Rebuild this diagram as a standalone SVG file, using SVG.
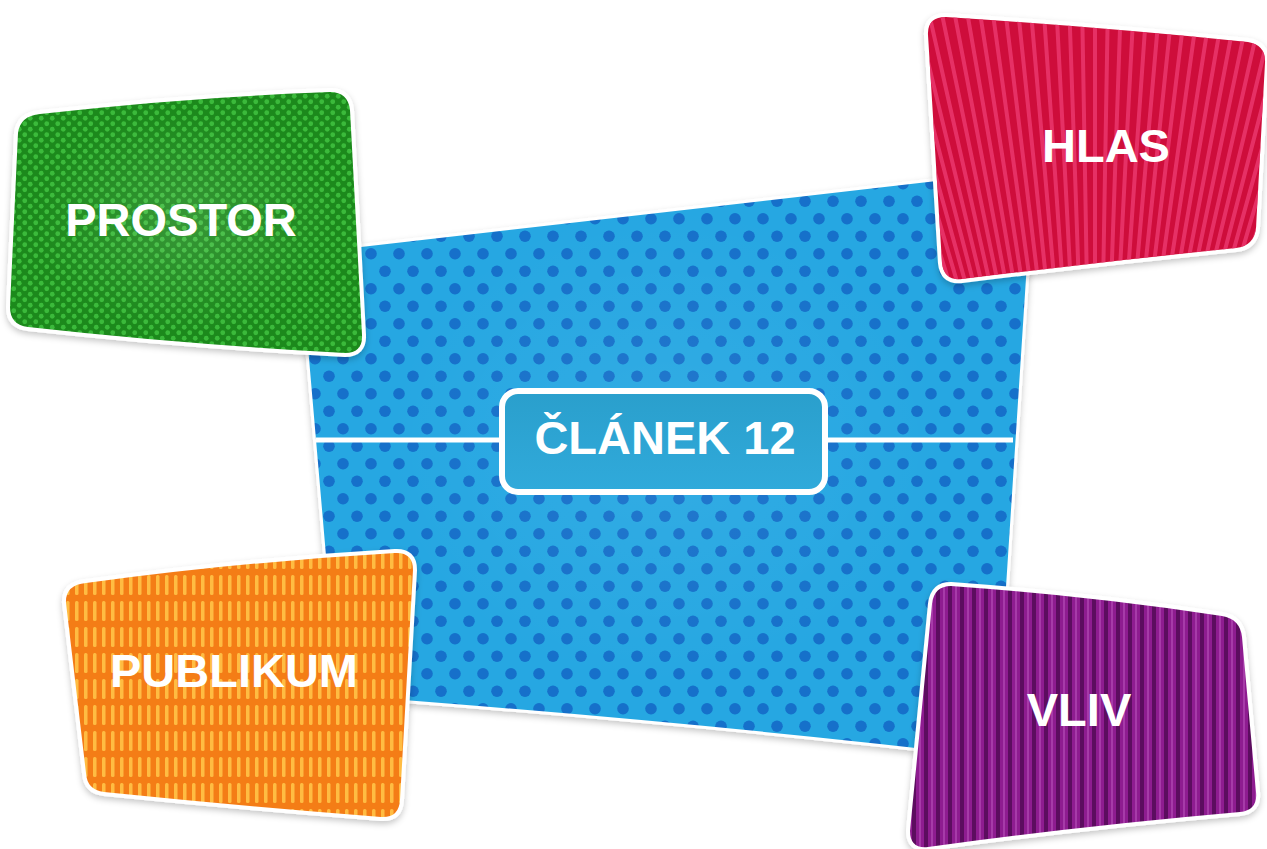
<svg xmlns="http://www.w3.org/2000/svg" xmlns:xlink="http://www.w3.org/1999/xlink" width="1267" height="849" viewBox="0 0 1267 849">
<style>
.lbl{font-family:"Liberation Sans",Arial,sans-serif;font-weight:bold;font-size:47px;fill:#fff;text-anchor:middle}
.card{stroke:#fff;stroke-width:8;stroke-linejoin:round;paint-order:stroke;filter:url(#sh)}
</style>
<defs>
<filter id="sh" x="-10%" y="-10%" width="120%" height="130%">
<feDropShadow dx="0" dy="3" stdDeviation="3" flood-color="#000" flood-opacity="0.22"/>
</filter>
<pattern id="pBlue" width="28" height="35" patternUnits="userSpaceOnUse">
<rect width="28" height="35" fill="#27A7E2"/>
<circle cx="7" cy="8.75" r="5.8" fill="#1270CA"/>
<circle cx="21" cy="26.25" r="5.8" fill="#1270CA"/>
</pattern>
<pattern id="pGreen" width="11" height="11" patternUnits="userSpaceOnUse">
<rect width="11" height="11" fill="#1A891A"/>
<circle cx="2.75" cy="2.75" r="2.4" fill="#3BBA3B"/>
<circle cx="8.25" cy="8.25" r="2.4" fill="#3BBA3B"/>
</pattern>
<pattern id="pOrange" width="9" height="26" patternUnits="userSpaceOnUse">
<rect width="9" height="26" fill="#F47D18"/>
<rect x="3" y="3" width="3.5" height="20" rx="1.5" fill="#FFBC42"/>
</pattern>
<pattern id="pPurple" width="12" height="12" patternUnits="userSpaceOnUse">
<rect width="12" height="12" fill="#8E1E90"/>
<rect x="0" width="4" height="12" fill="#5C0E5E"/>
<rect x="7" width="2" height="12" fill="#A63AA8"/>
</pattern>
<radialGradient id="glow" cx="0.5" cy="0.5" r="0.5">
<stop offset="0" stop-color="#fff" stop-opacity="0.12"/>
<stop offset="1" stop-color="#fff" stop-opacity="0"/>
</radialGradient>
<radialGradient id="glowSoft" cx="0.5" cy="0.5" r="0.5">
<stop offset="0" stop-color="#fff" stop-opacity="0.06"/>
<stop offset="1" stop-color="#fff" stop-opacity="0"/>
</radialGradient>
<linearGradient id="lblFill" x1="0" y1="0" x2="0" y2="1">
<stop offset="0" stop-color="#2A9FCC"/>
<stop offset="1" stop-color="#30AADB"/>
</linearGradient>
<path id="blueShape" d="M 300,254 L 1033,170 L 995,757 Q 700,722 338,695 Z"/>
<path id="prostorShape" d="M 40,114 Q 190,97 330,92 Q 348,92 350,110 L 362,335 Q 363,353 345,353 Q 180,344 28,327 Q 10,325 10,307 L 18,133 Q 20,116 40,114 Z"/>
<path id="hlasShape" d="M 946,17 Q 1100,27 1248,42 Q 1266,45 1265,63 L 1256,228 Q 1254,246 1236,248 Q 1100,262 962,279 Q 944,281 942,263 L 928,35 Q 927,17 946,17 Z"/>
<path id="publikumShape" d="M 86,583 Q 240,562 395,553 Q 413,552 413,570 L 400,800 Q 399,818 381,817 Q 240,806 104,792 Q 87,790 86,773 L 66,603 Q 65,585 86,583 Z"/>
<path id="vlivShape" d="M 951,586 Q 1090,596 1222,616 Q 1240,619 1242,637 L 1256,792 Q 1258,810 1240,812 Q 1080,826 928,847 Q 910,849 910,831 L 932,604 Q 934,586 951,586 Z"/>
<clipPath id="hlasClip"><use xlink:href="#hlasShape"/></clipPath>
</defs>

<g id="node-center-panel">
<use xlink:href="#blueShape" fill="url(#pBlue)" stroke="#fff" stroke-width="6" paint-order="stroke" filter="url(#sh)"/>
<ellipse cx="665" cy="445" rx="280" ry="240" fill="url(#glowSoft)"/>
</g>

<g id="connectors">
<line x1="316" y1="440" x2="1013" y2="440" stroke="#fff" stroke-width="5"/>
</g>

<g id="node-clanek">
<rect x="502" y="391" width="323" height="101" rx="16" fill="url(#lblFill)" stroke="#fff" stroke-width="6"/>
<text class="lbl" x="665" y="454">ČLÁNEK 12</text>
</g>

<g id="node-prostor">
<use xlink:href="#prostorShape" class="card" fill="url(#pGreen)"/>
<ellipse cx="185" cy="222" rx="150" ry="110" fill="url(#glow)"/>
<text class="lbl" x="181" y="236">PROSTOR</text>
</g>

<g id="node-hlas">
<use xlink:href="#hlasShape" class="card" fill="#CE0F3A"/>
<path clip-path="url(#hlasClip)" fill="none" stroke="#EC3A70" stroke-width="4" stroke-opacity="0.8" d="M1095,750L835,0M1095,750L848,0M1095,750L861,0M1095,750L874,0M1095,750L887,0M1095,750L900,0M1095,750L913,0M1095,750L926,0M1095,750L939,0M1095,750L952,0M1095,750L965,0M1095,750L978,0M1095,750L991,0M1095,750L1004,0M1095,750L1017,0M1095,750L1030,0M1095,750L1043,0M1095,750L1056,0M1095,750L1069,0M1095,750L1082,0M1095,750L1095,0M1095,750L1108,0M1095,750L1121,0M1095,750L1134,0M1095,750L1147,0M1095,750L1160,0M1095,750L1173,0M1095,750L1186,0M1095,750L1199,0M1095,750L1212,0M1095,750L1225,0M1095,750L1238,0M1095,750L1251,0M1095,750L1264,0M1095,750L1277,0M1095,750L1290,0M1095,750L1303,0M1095,750L1316,0M1095,750L1329,0M1095,750L1342,0M1095,750L1355,0"/>
<text class="lbl" x="1106" y="162">HLAS</text>
</g>

<g id="node-publikum">
<use xlink:href="#publikumShape" class="card" fill="url(#pOrange)"/>
<text class="lbl" x="234" y="687">PUBLIKUM</text>
</g>

<g id="node-vliv">
<use xlink:href="#vlivShape" class="card" fill="url(#pPurple)"/>
<text class="lbl" x="1079" y="726">VLIV</text>
</g>
</svg>
